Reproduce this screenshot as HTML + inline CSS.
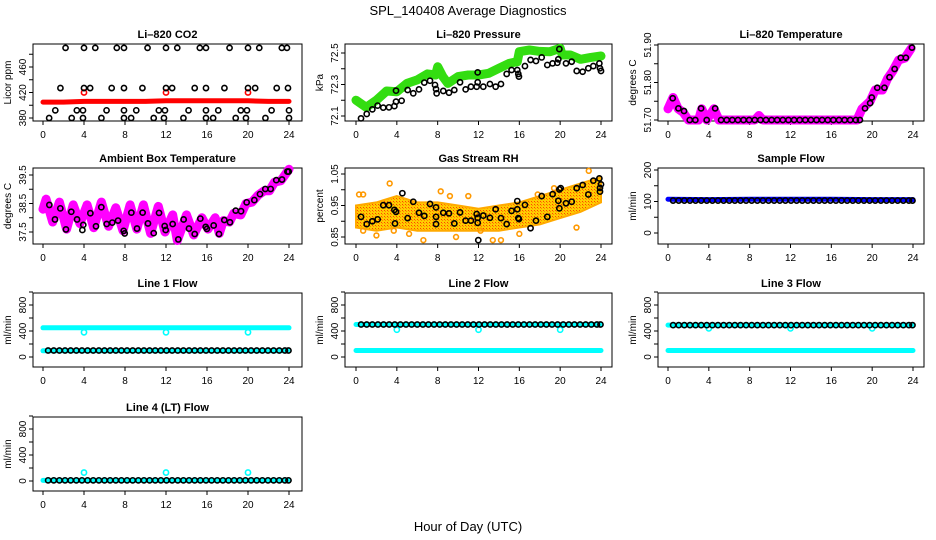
<!DOCTYPE html>
<html><head><meta charset="utf-8"><style>
html,body{margin:0;padding:0;background:#fff}
svg{display:block;font-family:"Liberation Sans",Arial,sans-serif}
</style></head><body>
<svg id="chart" width="936" height="540" viewBox="0 0 936 540" xmlns="http://www.w3.org/2000/svg">
<defs>
<pattern id="rhpat" width="3" height="3" patternUnits="userSpaceOnUse">
<rect width="3" height="3" fill="#ffcc00"/><rect x="1" y="1" width="1" height="1" fill="#ff8800"/><rect x="0" y="0" width="1" height="1" fill="#ff4400"/>
</pattern>
</defs>
<text x="468" y="15" text-anchor="middle" font-size="13">SPL_140408  Average Diagnostics</text>
<text x="468" y="531" text-anchor="middle" font-size="13">Hour of Day (UTC)</text>
</svg>
<script>
// ---- data ----
const co2H=[2.2,4.0,5.1,7.2,7.9,10.2,12.0,13.1,15.3,15.9,18.2,20.0,21.1,23.3,23.8,1.7,4.0,4.6,6.7,7.9,9.7,12.0,12.6,14.8,15.9,17.7,20.0,20.7,22.8,23.9,1.2,3.3,3.9,6.2,7.9,9.1,11.3,11.9,14.2,15.9,17.1,19.3,19.9,22.3,24.0,0.6,2.8,3.9,5.7,7.9,8.6,10.8,11.8,13.7,15.9,16.6,18.8,19.8,21.7,24.0];
const co2V=[490,490,490,490,490,490,490,490,490,490,490,490,490,490,490,427,427,427,427,427,427,427,427,427,427,427,427,427,427,427,392,392,392,392,392,392,392,392,392,392,392,392,392,392,392,380,380,380,380,380,380,380,380,380,380,380,380,380,380,380];
const co2BandH=[0,2,4,6,8,10,12,14,16,18,20,22,24];
const co2BandV=[405,405,406,406,406,406,407,407,407,407,407,406,406];
const co2DipH=[4,12,20];
const co2DipV=[420,420,420];

const presBandH=[0,1,2,3,4,5,6,7,7.8,8,8.5,9,10,11,12,13,14,15,15.8,16,17,18,19,20,20.2,21,22,23,24];
const presBandV=[72.20,72.155,72.20,72.259,72.254,72.307,72.329,72.367,72.36,72.413,72.35,72.307,72.35,72.36,72.36,72.371,72.403,72.434,72.445,72.508,72.519,72.51,72.508,72.53,72.487,72.487,72.46,72.472,72.481];
const presH=[0.49,1.05,1.6,2.12,2.67,3.23,3.76,3.92,4.47,3.92,5.06,5.61,6.17,6.69,7.25,7.74,7.84,7.9,8.55,9.11,9.63,10.19,10.74,11.26,11.82,11.92,11.92,12.47,13.12,13.68,14.2,14.76,15.24,15.8,15.9,15.96,16.55,17.1,17.63,18.19,18.74,19.26,19.72,19.82,19.92,20.57,21.13,21.62,22.2,22.76,23.25,23.84,23.9,24.0];
const presV=[72.085,72.113,72.142,72.166,72.153,72.155,72.163,72.191,72.197,72.261,72.265,72.244,72.269,72.312,72.324,72.297,72.271,72.244,72.259,72.248,72.265,72.314,72.269,72.286,72.286,72.314,72.377,72.286,72.303,72.286,72.303,72.367,72.392,72.392,72.367,72.35,72.417,72.456,72.449,72.472,72.424,72.434,72.438,72.46,72.525,72.434,72.445,72.386,72.381,72.403,72.417,72.434,72.403,72.386];

const tempBandH=[0,0.5,1,1.5,2,3,3.3,3.8,4.5,5,8.5,8.9,9.3,18.5,19,19.8,20.3,21,21.5,22,22.6,23.2,23.8];
const tempBandV=[51.73,51.76,51.73,51.72,51.70,51.70,51.73,51.70,51.73,51.70,51.70,51.712,51.70,51.70,51.73,51.75,51.78,51.78,51.81,51.83,51.86,51.865,51.89];
const tempH=[0.46,1.02,1.57,2.13,2.68,3.24,3.79,4.62,5.2,5.75,6.3,6.85,7.4,7.95,8.5,9.05,9.6,10.15,10.7,11.25,11.8,12.35,12.9,13.45,14.0,14.55,15.1,15.65,16.2,16.75,17.3,17.85,18.4,18.8,19.3,19.8,19.96,20.5,21.2,21.7,22.2,22.8,23.3,23.9];
const tempV=[51.758,51.731,51.724,51.70,51.70,51.731,51.70,51.731,51.70,51.70,51.70,51.70,51.70,51.70,51.70,51.70,51.70,51.70,51.70,51.70,51.70,51.70,51.70,51.70,51.70,51.70,51.70,51.70,51.70,51.70,51.70,51.70,51.70,51.70,51.731,51.745,51.76,51.786,51.786,51.814,51.836,51.866,51.866,51.893];

const ambBandH=[0,0.3,0.95,1.6,2.3,2.95,3.6,4.3,4.95,5.7,6.4,7.1,7.8,8.5,9.15,9.8,10.5,11.25,11.9,12.65,13.1,14.0,14.7,15.5,16.1,16.8,17.2,17.6,18.2,18.6,19.3,19.8,20.4,21.0,21.6,22.1,22.6,23.2,23.8,24];
const ambBandV=[38.3,38.65,37.85,38.55,37.6,38.45,37.8,38.45,37.65,38.55,37.7,38.35,37.55,38.45,37.6,38.45,37.45,38.4,37.5,38.1,37.2,38.1,37.4,38.0,37.6,38.0,37.45,37.9,37.85,38.15,38.1,38.5,38.55,38.8,38.95,38.95,39.25,39.3,39.6,39.7];
const ambH=[0.62,1.17,1.69,2.24,2.76,3.32,3.84,3.93,4.62,5.17,5.69,6.21,6.76,7.32,7.87,7.97,8.62,9.17,9.72,10.24,10.8,11.32,11.87,11.97,12.65,13.2,13.72,14.24,14.8,15.35,15.87,15.99,16.65,17.17,17.69,18.24,18.8,19.32,19.87,20.62,21.17,21.69,22.21,22.76,23.32,23.84,23.97];
const ambV=[38.45,37.94,38.33,37.59,38.21,37.94,37.57,37.75,38.16,37.70,38.37,37.78,37.83,37.90,37.54,37.45,38.18,37.62,38.18,37.80,37.46,38.17,37.71,37.57,37.78,37.24,37.94,37.62,37.43,37.97,37.68,37.61,37.73,37.43,37.92,37.84,38.25,38.23,38.54,38.62,38.83,39.01,39.01,39.32,39.34,39.62,39.62];

const rhEnvH=[0,2,4,6,8,10,12,14,16,18,20,22,24];
const rhUpper=[0.95,0.96,0.98,0.96,0.96,0.95,0.94,0.95,0.96,0.98,1.0,1.02,1.04];
const rhLower=[0.88,0.87,0.88,0.87,0.87,0.87,0.87,0.87,0.88,0.89,0.91,0.93,0.96];
const rhOutH=[0.3,0.7,3.3,0.7,3.7,6.6,9.8,12.2,13.4,14.2,8.3,9.2,22.8,21.6,16.0,2.0,5.2,11.0,17.8,19.4];
const rhOutV=[0.985,0.985,1.02,0.87,0.87,0.84,0.85,0.87,0.84,0.84,0.995,0.98,1.06,0.88,0.86,0.855,0.86,0.98,0.985,1.005];
const rhH=[0.49,1.05,1.6,2.12,2.67,3.23,3.76,3.92,3.82,4.54,5.06,5.61,6.17,6.69,7.25,7.84,7.84,7.84,8.55,9.11,9.63,10.19,10.74,11.26,11.82,11.92,11.92,11.98,12.47,13.12,13.68,14.2,14.76,15.24,15.8,15.8,15.9,15.96,16.55,17.1,17.63,18.19,18.74,19.26,19.82,19.92,20.05,19.92,20.57,21.13,21.62,22.2,22.76,23.25,23.84,23.9,24.0,23.9];
const rhV=[0.914,0.891,0.900,0.906,0.951,0.951,0.936,0.930,0.893,0.989,0.910,0.962,0.927,0.917,0.955,0.944,0.914,0.891,0.927,0.925,0.893,0.928,0.902,0.902,0.923,0.911,0.895,0.840,0.918,0.911,0.938,0.910,0.891,0.933,0.964,0.938,0.910,0.907,0.952,0.878,0.902,0.980,0.914,0.986,0.965,1.001,1.005,0.941,0.957,0.962,1.005,1.015,0.985,1.029,1.036,1.006,1.017,0.994];

const flowH=[0.5,1.05,1.6,2.15,2.7,3.25,3.8,4.35,4.9,5.45,6.0,6.55,7.1,7.65,8.2,8.75,9.3,9.85,10.4,10.95,11.5,12.05,12.6,13.15,13.7,14.25,14.8,15.35,15.9,16.45,17.0,17.55,18.1,18.65,19.2,19.75,20.3,20.85,21.4,21.95,22.5,23.05,23.6,23.95];
const sampleV=[103,103,103,103,103,103,103,103,103,103,103,103,103,103,103,103,103,103,103,103,103,103,103,103,103,103,103,103,103,103,103,103,103,103,103,103,103,103,103,103,103,103,103,103];
const line1V=[100,100,100,100,100,100,100,100,100,100,100,100,100,100,100,100,100,100,100,100,100,100,100,100,100,100,100,100,100,100,100,100,100,100,100,100,100,100,100,100,100,100,100,100];
const line2V=[500,500,500,500,500,500,500,500,500,500,500,500,500,500,500,500,500,500,500,500,500,500,500,500,500,500,500,500,500,500,500,500,500,500,500,500,500,500,500,500,500,500,500,500];
const line3V=[490,490,490,490,490,490,490,490,490,490,490,490,490,490,490,490,490,490,490,490,490,490,490,490,490,490,490,490,490,490,490,490,490,490,490,490,490,490,490,490,490,490,490,490];
const line4V=[10,10,10,10,10,10,10,10,10,10,10,10,10,10,10,10,10,10,10,10,10,10,10,10,10,10,10,10,10,10,10,10,10,10,10,10,10,10,10,10,10,10,10,10];
const bandH=[0,4,8,12,16,20,24];
const sampleBandV=[107,106,107,107,107,106,106];
const line1HiV=[450,450,450,450,450,450,450];
const line1LoV=[95,95,95,95,95,95,95];
const line2HiV=[500,500,500,500,500,500,500];
const line2LoV=[100,100,100,100,100,100,100];
const line3HiV=[490,490,490,490,490,490,490];
const line3LoV=[100,100,100,100,100,100,100];
const line4BandV=[10,10,10,10,10,10,10];
const dipH=[4,12,20];
const line1DipV=[380,380,380];
const line2DipV=[420,420,420];
const line3DipV=[440,440,440];
const line4DipV=[130,130,130];

// ---- layout ----
const NS='http://www.w3.org/2000/svg';
const svg=document.getElementById('chart');
const cols=[{l:33,r:302,x0:43,x24:289},{l:345,r:612,x0:356,x24:601},{l:658,r:924,x0:668,x24:913}];
const rows=[{t:44,b:121},{t:168,b:244},{t:293,b:367},{t:417,b:491}];
function mk(tag,attrs,parent){const e=document.createElementNS(NS,tag);for(const k in attrs)e.setAttribute(k,attrs[k]);(parent||svg).appendChild(e);return e;}

function panel(c,r,name,title,ylab,cal,ticks,labels){
  const col=cols[c],row=rows[r];
  const g=mk('g',{});
  
  
  const xs=h=>col.x0+(col.x24-col.x0)*h/24;
  const ys=v=>cal[1]+(cal[3]-cal[1])*(v-cal[0])/(cal[2]-cal[0]);
  const box=mk('rect',{x:col.l,y:row.t,width:col.r-col.l,height:row.b-row.t,fill:'none',stroke:'#000','stroke-width':1},g);
  
  
  const tt=mk('text',{x:(col.l+col.r)/2,y:row.t-6,'text-anchor':'middle','font-size':11,'font-weight':'bold'},g);
  tt.textContent=title;
  
  
  const yt=mk('text',{transform:`translate(${col.l-22},${(row.t+row.b)/2}) rotate(-90)`,'text-anchor':'middle','font-size':10},g);
  yt.textContent=ylab;
  
  
  for(let h=0;h<=24;h+=4){
    const x=xs(h);
    const tk=mk('line',{x1:x,x2:x,y1:row.b,y2:row.b+4,stroke:'#000'},g);
    
    
    const tl=mk('text',{x:x,y:row.b+17,'text-anchor':'middle','font-size':10},g);
    tl.textContent=h;
    
    
  }
  ticks.forEach(v=>{
    const y=ys(v);
    const tk=mk('line',{x1:col.l-4,x2:col.l,y1:y,y2:y,stroke:'#000'},g);
    
    
  });
  labels.forEach(s=>{
    const y=ys(parseFloat(s));
    const tl=mk('text',{transform:`translate(${col.l-7},${y}) rotate(-90)`,'text-anchor':'middle','font-size':10},g);
    tl.textContent=s;
    
    
  });
  return {g,xs,ys};
}
function band(p,H,V,color,w,name){
  const pts=H.map((h,i)=>p.xs(h).toFixed(1)+','+p.ys(V[i]).toFixed(1)).join(' ');
  const e=mk('polyline',{points:pts,fill:'none',stroke:color,'stroke-width':w,'stroke-linejoin':'round','stroke-linecap':'round'},p.g);
  
  
}
function pts(p,H,V,color,name,rr,sw){
  H.forEach((h,i)=>{
    const e=mk('circle',{cx:p.xs(h),cy:p.ys(V[i]),r:rr||2.6,fill:'none',stroke:color,'stroke-width':sw||1.6},p.g);
    
    
  });
}

// Panel 1 CO2
let p=panel(0,0,'co2','Li\u2013820 CO2','Licor ppm',[380,118,460,67],[380,400,420,440,460,480],['380','420','460']);
band(p,co2BandH,co2BandV,'#ff0000',5,'co2-red-series');
pts(p,co2DipH,co2DipV,'#ff0000','co2-red-point');
pts(p,co2H,co2V,'#000','co2-black-point');

// Panel 2 pressure
p=panel(1,0,'pressure','Li\u2013820 Pressure','kPa',[72.1,116,72.5,53],[72.1,72.2,72.3,72.4,72.5],['72.1','72.3','72.5']);
band(p,presBandH,presBandV,'#33dd11',9,'pressure-green-series');
pts(p,presH,presV,'#000','pressure-black-point');

// Panel 3 temperature
p=panel(2,0,'li820-temp','Li\u2013820 Temperature','degrees C',[51.70,120,51.90,45],[51.70,51.75,51.80,51.85,51.90],['51.70','51.80','51.90']);
band(p,tempBandH,tempBandV,'#ff00ff',9,'li820-temp-magenta-series');
pts(p,tempH,tempV,'#000','li820-temp-black-point');

// Panel 4 ambient
p=panel(0,1,'ambient-temp','Ambient Box Temperature','degrees C',[37.5,232,39.5,175],[37.5,38,38.5,39,39.5],['37.5','38.5','39.5']);
band(p,ambBandH,ambBandV,'#ff00ff',9,'ambient-magenta-series');
pts(p,ambH,ambV,'#000','ambient-black-point');

// Panel 5 RH
p=panel(1,1,'rh','Gas Stream RH','percent',[0.85,237,1.05,174],[0.85,0.9,0.95,1.0,1.05],['0.85','0.95','1.05']);
{
  const up=rhEnvH.map((h,i)=>p.xs(h).toFixed(1)+','+p.ys(rhUpper[i]).toFixed(1));
  const lo=rhEnvH.map((h,i)=>p.xs(h).toFixed(1)+','+p.ys(rhLower[i]).toFixed(1)).reverse();
  const e=mk('polygon',{points:up.concat(lo).join(' '),fill:'url(#rhpat)',stroke:'#ffaa00','stroke-width':2},p.g);
  
  
}
pts(p,rhOutH,rhOutV,'#ff9900','rh-orange-point',2.4,1.6);
pts(p,rhH,rhV,'#000','rh-black-point');

// Panel 6 sample flow
p=panel(2,1,'sample-flow','Sample Flow','ml/min',[0,233,200,170],[0,50,100,150,200],['0','100','200']);
band(p,bandH,sampleBandV,'#0000ff',5,'sample-flow-blue-series');
pts(p,flowH,sampleV,'#000','sample-flow-black-point');

// Row 3/4 flows
const flowTicks=[0,200,400,600,800,1000],flowLabels=['0','400','800'];
p=panel(0,2,'line1-flow','Line 1 Flow','ml/min',[0,357,800,305],flowTicks,flowLabels);
band(p,bandH,line1HiV,'#00ffff',5,'line1-cyan-high-series');
band(p,bandH,line1LoV,'#00ffff',5,'line1-cyan-low-series');
pts(p,dipH,line1DipV,'#00ffff','line1-cyan-point');
pts(p,flowH,line1V,'#000','line1-black-point');

p=panel(1,2,'line2-flow','Line 2 Flow','ml/min',[0,357,800,305],flowTicks,flowLabels);
band(p,bandH,line2HiV,'#00ffff',5,'line2-cyan-high-series');
band(p,bandH,line2LoV,'#00ffff',5,'line2-cyan-low-series');
pts(p,dipH,line2DipV,'#00ffff','line2-cyan-point');
pts(p,flowH,line2V,'#000','line2-black-point');

p=panel(2,2,'line3-flow','Line 3 Flow','ml/min',[0,357,800,305],flowTicks,flowLabels);
band(p,bandH,line3HiV,'#00ffff',5,'line3-cyan-high-series');
band(p,bandH,line3LoV,'#00ffff',5,'line3-cyan-low-series');
pts(p,dipH,line3DipV,'#00ffff','line3-cyan-point');
pts(p,flowH,line3V,'#000','line3-black-point');

p=panel(0,3,'line4-flow','Line 4 (LT) Flow','ml/min',[0,481,800,429],flowTicks,flowLabels);
band(p,bandH,line4BandV,'#00ffff',5,'line4-cyan-series');
pts(p,dipH,line4DipV,'#00ffff','line4-cyan-point');
pts(p,flowH,line4V,'#000','line4-black-point');
</script>
</body></html>
